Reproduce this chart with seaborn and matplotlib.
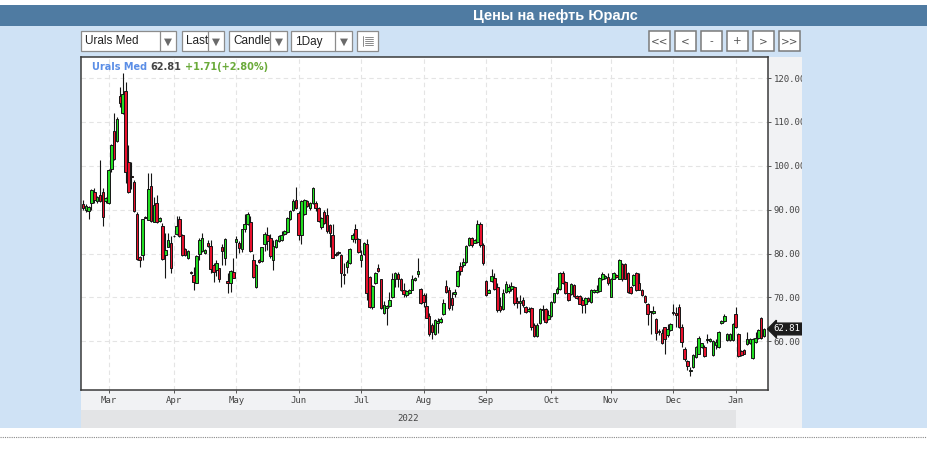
import matplotlib
matplotlib.use("Agg")
import matplotlib.pyplot as plt
import matplotlib.transforms as mtransforms
from matplotlib.patches import Rectangle
from matplotlib.lines import Line2D
import numpy as np
import seaborn as sns

# --- data ---
title = "Цены на нефть Юралс"
series_name = "Urals Med"
change_abs = 1.71
change_pct = 2.80

opens = [91.3, 90.0, 89.8, 91.5, 94.0, 91.9, 93.3, 94.1, 92.0, 91.6,
         99.2, 108.0, 105.6, 116.0, 112.0, 117.0, 100.8, 97.7, 96.3, 89.0,
         79.3, 79.7, 88.4, 87.7, 95.3, 87.3, 91.6, 87.5, 86.3, 79.7,
         81.6, 82.4, 84.1, 84.5, 87.8, 84.3, 81.0, 78.9, 75.8, 75.1,
         73.4, 79.8, 80.5, 80.2, 82.3, 81.8, 77.5, 76.3, 76.7, 81.5,
         79.0, 73.8, 73.2, 75.8, 82.6, 82.3, 81.1, 85.5, 86.7, 87.3,
         78.5, 72.3, 78.5, 78.2, 82.1, 84.2, 83.6, 78.6, 81.5, 82.8,
         83.1, 84.4, 84.8, 87.8, 90.0, 92.3, 89.3, 84.3, 89.0, 92.0,
         90.4, 91.5, 91.5, 90.4, 86.0, 89.5, 88.9, 86.6, 84.2, 79.9,
         80.3, 79.6, 75.3, 77.0, 77.9, 83.4, 85.7, 83.4, 78.5, 79.8,
         82.1, 74.7, 67.9, 73.2, 76.8, 74.1, 66.4, 67.5, 68.0, 70.0,
         74.1, 75.3, 74.3, 71.7, 70.5, 70.9, 71.8, 73.9, 75.3, 72.0,
         70.5, 68.1, 65.8, 63.7, 61.7, 64.2, 64.3, 66.2, 72.6, 71.8,
         69.8, 70.8, 72.6, 77.1, 77.3, 78.1, 81.9, 83.6, 82.5, 82.7,
         86.7, 81.9, 73.8, 71.1, 73.8, 74.5, 72.4, 68.0, 67.3, 71.3,
         71.5, 72.0, 72.4, 69.2, 68.8, 69.4, 67.9, 66.9, 67.5, 63.7,
         61.2, 64.1, 67.3, 67.3, 65.0, 65.8, 69.0, 70.9, 72.0, 75.6,
         73.6, 70.9, 70.8, 72.8, 70.3, 70.3, 69.5, 68.5, 69.8, 69.0,
         71.3, 71.3, 71.5, 74.3, 74.5, 74.7, 70.2, 74.3, 75.2, 74.3,
         77.6, 77.6, 75.5, 72.4, 72.8, 75.5, 73.2, 71.7, 70.3, 68.6,
         66.8, 66.4, 65.0, 62.3, 61.8, 63.3, 61.4, 62.5, 66.6, 66.5,
         67.9, 63.3, 58.3, 55.6, 53.2, 54.1, 56.4, 57.2, 58.7, 58.7,
         60.2, 60.1, 56.8, 59.1, 58.7, 64.2, 64.7, 60.2, 60.2, 60.2,
         66.2, 61.6, 57.8, 58.0, 59.3, 59.5, 56.3, 59.8, 60.8, 65.4, 61.1]

highs = [92.2, 91.2, 90.8, 94.6, 94.9, 93.2, 101.4, 94.9, 93.0, 99.3,
         104.9, 112.0, 111.2, 118.0, 121.1, 119.2, 104.7, 100.8, 96.8, 89.5,
         79.4, 87.9, 88.6, 98.3, 98.3, 93.0, 93.3, 88.3, 86.9, 84.6,
         84.6, 84.0, 84.3, 88.6, 88.6, 84.5, 81.2, 80.8, 76.0, 77.0,
         79.6, 83.6, 84.6, 81.1, 83.2, 83.2, 77.9, 78.6, 76.8, 82.1,
         83.5, 75.5, 76.3, 79.0, 84.0, 82.9, 85.6, 89.0, 89.4, 88.6,
         80.0, 77.7, 78.7, 81.6, 85.0, 86.0, 84.4, 83.2, 83.4, 84.2,
         85.2, 85.4, 88.4, 90.0, 92.5, 95.1, 89.7, 92.3, 92.4, 92.2,
         91.8, 95.1, 91.9, 90.6, 88.3, 89.9, 90.4, 86.8, 86.8, 80.3,
         80.6, 79.8, 77.8, 78.5, 81.3, 84.7, 86.8, 83.6, 80.8, 82.7,
         83.4, 74.9, 72.8, 75.8, 77.7, 74.3, 69.1, 68.3, 71.2, 75.6,
         75.9, 75.9, 74.5, 73.2, 71.6, 71.9, 75.1, 74.7, 78.9, 72.2,
         70.9, 70.9, 66.4, 64.1, 65.0, 65.2, 65.6, 69.6, 74.0, 72.4,
         71.3, 72.0, 76.3, 78.1, 78.9, 81.9, 83.8, 83.8, 83.4, 87.6,
         87.2, 82.3, 74.0, 72.0, 76.5, 75.6, 73.2, 70.2, 72.0, 73.8,
         73.0, 73.6, 72.6, 70.0, 70.5, 70.0, 68.1, 67.9, 67.9, 64.1,
         64.1, 67.5, 68.3, 67.5, 67.1, 69.2, 71.1, 72.4, 75.8, 76.1,
         73.8, 71.1, 73.2, 73.0, 70.5, 70.5, 70.1, 70.1, 70.0, 71.9,
         72.0, 72.8, 74.7, 75.8, 75.0, 75.5, 74.5, 75.7, 75.4, 78.7,
         77.8, 77.8, 75.7, 72.6, 75.3, 75.9, 75.5, 71.9, 70.5, 68.8,
         66.8, 68.1, 65.2, 62.7, 62.9, 63.3, 64.0, 64.2, 68.6, 67.9,
         68.6, 64.0, 58.7, 55.8, 54.1, 57.0, 58.9, 61.3, 59.7, 59.1,
         61.6, 60.8, 60.3, 60.6, 62.3, 64.9, 66.2, 61.9, 61.8, 64.1,
         67.9, 61.8, 58.0, 58.2, 62.2, 60.7, 60.7, 62.2, 62.7, 65.6, 63.0]

lows = [89.9, 89.5, 87.8, 90.0, 91.5, 91.5, 91.7, 86.2, 91.6, 91.4,
        98.6, 101.3, 105.4, 113.5, 111.8, 96.1, 93.8, 94.8, 89.5, 78.5,
        77.0, 78.5, 88.0, 87.6, 87.3, 87.2, 86.9, 87.3, 78.5, 74.4,
        81.4, 75.5, 83.7, 84.3, 83.8, 79.5, 79.4, 78.7, 75.4, 71.7,
        73.2, 78.6, 80.4, 80.0, 81.5, 75.6, 73.5, 74.8, 73.6, 77.4,
        77.3, 71.1, 71.2, 74.4, 79.0, 80.1, 80.3, 84.8, 86.6, 80.3,
        74.4, 72.1, 77.8, 78.0, 80.5, 80.8, 79.1, 76.3, 81.3, 82.6,
        82.9, 84.2, 84.6, 87.6, 89.8, 90.2, 83.2, 82.1, 88.8, 90.6,
        90.0, 91.2, 89.6, 87.2, 85.6, 86.8, 84.7, 81.5, 78.9, 79.4,
        79.7, 72.3, 73.1, 75.5, 77.7, 82.7, 82.3, 80.2, 77.0, 79.6,
        69.4, 67.7, 67.3, 73.0, 75.9, 67.3, 66.2, 63.8, 67.8, 69.8,
        72.3, 72.3, 71.5, 70.2, 70.0, 70.7, 71.6, 73.7, 74.7, 68.6,
        67.8, 65.2, 61.2, 60.6, 61.5, 62.0, 64.1, 66.0, 70.9, 67.1,
        67.1, 70.2, 72.4, 75.1, 76.9, 77.9, 81.7, 81.5, 82.3, 82.3,
        81.5, 77.3, 70.3, 70.9, 73.6, 71.7, 66.7, 66.7, 67.1, 70.9,
        70.9, 71.4, 68.3, 67.7, 66.3, 67.9, 66.5, 66.7, 62.5, 60.9,
        61.0, 63.9, 64.8, 64.1, 64.9, 65.6, 68.8, 70.7, 71.8, 73.0,
        70.7, 69.2, 70.6, 70.1, 69.6, 68.4, 66.4, 66.5, 69.0, 68.8,
        71.1, 70.9, 71.3, 73.9, 74.3, 72.8, 70.0, 74.1, 74.5, 74.1,
        73.8, 74.1, 71.1, 70.7, 72.6, 71.5, 71.6, 70.3, 68.8, 63.8,
        61.6, 66.2, 60.4, 61.4, 59.4, 57.2, 61.0, 62.3, 66.0, 63.3,
        63.1, 58.6, 55.6, 53.4, 52.2, 53.9, 56.2, 57.0, 58.5, 56.4,
        59.7, 59.9, 56.6, 58.3, 58.5, 64.0, 64.5, 60.1, 60.0, 60.0,
        63.1, 56.4, 56.6, 57.0, 59.1, 59.3, 55.9, 59.6, 60.6, 60.6, 60.9]

closes = [90.3, 90.8, 90.6, 94.4, 92.2, 92.8, 92.0, 88.3, 92.6, 99.1,
          104.8, 101.5, 110.7, 114.3, 116.4, 98.5, 94.1, 97.5, 89.8, 78.7,
          78.6, 87.8, 88.2, 94.7, 87.5, 91.1, 87.3, 88.1, 78.7, 80.7,
          83.1, 76.7, 83.9, 86.3, 84.0, 79.7, 79.7, 80.6, 75.6, 73.6,
          79.4, 83.2, 83.6, 80.9, 81.7, 76.5, 75.9, 77.8, 74.2, 80.5,
          83.4, 73.2, 76.1, 74.5, 83.4, 81.3, 85.5, 86.7, 89.0, 80.5,
          74.6, 77.5, 78.0, 81.4, 84.4, 82.8, 79.4, 81.7, 83.2, 84.0,
          84.2, 85.2, 88.2, 89.8, 91.9, 90.4, 84.3, 92.0, 92.2, 90.8,
          91.5, 94.9, 90.4, 87.5, 88.1, 87.0, 85.1, 84.7, 79.1, 79.7,
          80.1, 75.5, 75.1, 78.1, 81.1, 84.2, 83.4, 80.4, 79.6, 82.5,
          71.1, 67.9, 72.6, 75.6, 76.1, 67.5, 68.3, 68.0, 69.5, 74.1,
          75.6, 74.3, 71.7, 70.8, 71.4, 71.7, 74.3, 74.5, 76.0, 68.8,
          69.0, 65.4, 61.6, 62.2, 64.8, 64.6, 65.1, 68.8, 71.3, 67.7,
          68.3, 71.3, 76.0, 76.1, 78.0, 81.7, 83.6, 81.9, 83.2, 86.7,
          81.9, 77.9, 70.5, 71.8, 74.8, 72.0, 67.1, 67.1, 70.9, 73.0,
          72.3, 72.6, 68.8, 68.8, 69.2, 68.3, 66.7, 67.3, 63.3, 61.2,
          63.7, 67.3, 67.1, 64.5, 66.0, 69.0, 70.9, 72.0, 75.6, 73.2,
          70.9, 69.4, 73.0, 70.3, 69.8, 68.6, 68.3, 69.8, 69.2, 71.7,
          71.8, 71.8, 74.5, 75.3, 74.8, 73.2, 74.3, 75.5, 74.7, 78.5,
          74.1, 74.3, 71.3, 70.9, 75.1, 71.7, 71.8, 70.5, 69.0, 66.2,
          66.6, 66.8, 61.8, 62.1, 59.6, 60.6, 62.7, 64.0, 66.4, 66.0,
          63.3, 59.8, 56.0, 54.3, 53.5, 56.8, 58.7, 60.8, 59.5, 56.6,
          60.6, 60.6, 60.1, 59.8, 62.1, 64.7, 65.7, 61.6, 61.6, 63.9,
          63.3, 56.6, 56.8, 57.2, 60.5, 60.5, 60.5, 60.8, 62.5, 60.8, 62.81]

# first trading day of each month (candle index) and labels
month_labels = ["Mar", "Apr", "May", "Jun", "Jul", "Aug", "Sep", "Oct", "Nov", "Dec", "Jan"]
month_first_idx = [9, 32, 54, 76, 98, 120, 142, 165, 186, 208, 230]
year_label = "2022"
y_ticks = [60, 70, 80, 90, 100, 110, 120]

# --- style ---
sns.set_theme(style="white")
plt.rcParams['font.family'] = ['DejaVu Sans']

W, H = 927, 450
fig = plt.figure(figsize=(W / 100, H / 100), dpi=100, facecolor='white')


def fx(x):
    return x / W


def fy(y):
    return 1 - y / H


def box(x0, y0, x1, y1, fc, ec='none', lw=0.0, z=-1):
    r = Rectangle((fx(x0), fy(y1)), (x1 - x0) / W, (y1 - y0) / H,
                  transform=fig.transFigure, facecolor=fc, edgecolor=ec,
                  linewidth=lw, zorder=z)
    fig.add_artist(r)


def line(x0, y0, x1, y1, color, lw=0.8, ls='-', z=1):
    fig.add_artist(Line2D([fx(x0), fx(x1)], [fy(y0), fy(y1)], transform=fig.transFigure,
                          color=color, lw=lw, ls=ls, zorder=z))


PANEL = '#cfe2f5'
# backgrounds
box(0, 5, W, 26, '#4f7ba2')
box(0, 26, W, 428, PANEL)
box(81, 57, 802, 428, '#f1f2f4')
line(0, 437, W, 437, '#8a8a8a', lw=0.8, ls=(0, (1, 1)))
fig.text(fx(555), fy(16), title, color='white', fontsize=10.5, fontweight='bold',
         family=['Liberation Sans', 'DejaVu Sans'], ha='center', va='center')

# toolbar drop-downs
drops = [("Urals Med", 81, 160, 176), ("Last", 182, 208, 224),
         ("Candle", 229, 270, 287), ("1Day", 291, 335, 352)]
for label, x0, xd, x1 in drops:
    box(x0, 31, x1, 51, 'white', ec='#8c8c8c', lw=0.9, z=1)
    line(xd, 31, xd, 51, '#8c8c8c', lw=0.9, z=2)
    fig.text(fx(x0 + 4), fy(41.5), label, fontsize=8.5, color='#222',
             family=['Liberation Sans', 'DejaVu Sans'], ha='left', va='center')
    fig.text(fx((xd + x1) / 2), fy(42), "▼", fontsize=7.5, color='#6a6a6a',
             ha='center', va='center')
box(357, 31, 378, 51, 'white', ec='#8c8c8c', lw=0.9, z=1)
line(362.5, 36, 362.5, 46, '#777', lw=0.6, z=2)
for yy in (37, 39, 41, 43, 45):
    line(364.5, yy, 372.5, yy, '#777', lw=0.6, z=2)

for label, x0 in [("<<", 649), ("<", 675), ("-", 701), ("+", 727), (">", 753), (">>", 779)]:
    box(x0, 31, x0 + 21, 51, 'white', ec='#7a7a7a', lw=1.1, z=1)
    fig.text(fx(x0 + 10.5), fy(41.5), label, fontsize=7.5, color='#555',
             ha='center', va='center')

# --- chart ---
ax = fig.add_axes([fx(81), fy(390), (768 - 81) / W, (390 - 57) / H])
ax.set_facecolor('white')
idx = np.arange(len(closes))
o = np.array(opens)
c = np.array(closes)
up = c >= o
body_lo = np.minimum(o, c)
body_h = np.maximum(np.abs(c - o), 0.12)
colors = np.where(up, '#22dd22', '#e8112d')

ax.vlines(idx, lows, highs, color='#151515', lw=0.8, zorder=2)
ax.bar(idx, body_h, bottom=body_lo, width=0.9, color=colors,
       edgecolor='#151515', linewidth=0.7, zorder=3)

ax.set_xlim(-0.7, 241.4)
ax.set_ylim(48.9, 124.8)
ax.set_yticks(y_ticks)
ax.set_yticklabels([f"{v:.2f}" for v in y_ticks])
ax.set_xticks(month_first_idx)
ax.set_xticklabels(month_labels)
ax.yaxis.tick_right()
ax.tick_params(axis='both', which='both', length=2.5, width=0.7, color='#555',
               labelsize=6.5, labelcolor='#444', pad=1.5,
               bottom=True, right=True, left=False, top=False)
for lab in ax.get_xticklabels() + ax.get_yticklabels():
    lab.set_family('DejaVu Sans Mono')
ax.grid(True, color='#e4e4e4', lw=0.8, ls=(0, (4, 3)))
ax.set_axisbelow(True)
for s in ax.spines.values():
    s.set_color('#3a3a3a')
    s.set_linewidth(1.1)

# year band under the month labels
blend = mtransforms.blended_transform_factory(ax.transData, ax.transAxes)
x_left = ax.get_xlim()[0]
ax.add_patch(Rectangle((x_left, -0.1141), month_first_idx[-1] - x_left, 0.054,
                       transform=blend, facecolor='#e3e4e6', edgecolor='none',
                       clip_on=False, zorder=0))
ax.text((x_left + month_first_idx[-1]) / 2, -0.087, year_label, transform=blend,
        ha='center', va='center', fontsize=6.5, color='#444', family='DejaVu Sans Mono')

# last-price tag
tag = mtransforms.blended_transform_factory(ax.transAxes, ax.transData)
ax.text(1.0085, closes[-1], f"{closes[-1]:.2f}", transform=tag, ha='left', va='center',
        fontsize=6.5, color='white', family='DejaVu Sans Mono', clip_on=False, zorder=6,
        bbox=dict(boxstyle='larrow,pad=0.15', fc='#1c1c1c', ec='#1c1c1c'))

# header legend in the plot
fig.text(fx(92), fy(67), series_name, color='#5b8ee6', fontsize=7, fontweight='bold',
         ha='left', va='center')
fig.text(fx(150), fy(67), f"{closes[-1]:.2f}", color='#444', fontsize=7, fontweight='bold',
         ha='left', va='center')
fig.text(fx(185), fy(67), f"+{change_abs:.2f}(+{change_pct:.2f}%)", color='#6aaa3a',
         fontsize=7, fontweight='bold', ha='left', va='center')

# clip the right edge of the widget
box(802, 52, W, 428, PANEL, z=5)

fig.savefig('out.png', dpi=100, facecolor='white')
